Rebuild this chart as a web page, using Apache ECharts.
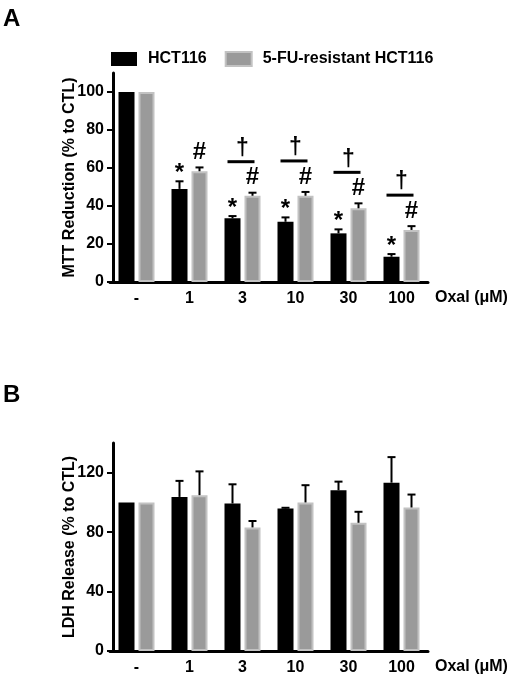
<!DOCTYPE html>
<html>
<head>
<meta charset="utf-8">
<script src="https://cdn.jsdelivr.net/npm/echarts@6/dist/echarts.min.js"></script>
<style>
html,body{margin:0;padding:0;background:#fff;}
#chart{width:512px;height:677px;}
</style>
</head>
<body>
<div id="chart"></div>
<script>
// ---- data ----
const categories = ['-', '1', '3', '10', '30', '100'];
const seriesNames = ['HCT116', '5-FU-resistant HCT116'];
// Panel A: MTT reduction (% to CTL)
const mttHCT = [100, 49, 33.5, 31.7, 25.6, 13.3];
const mttHCTErr = [0, 4, 1.2, 2.3, 2.1, 1.4];
const mttRes = [100, 58.3, 45.4, 45.4, 38.8, 27.4];
const mttResErr = [0, 2, 1.6, 2, 2.6, 2];
const mttStar = ['', '*', '*', '*', '*', '*'];
const mttHash = ['', '#', '#', '#', '#', '#'];
const mttDagger = ['', '', '\u2020', '\u2020', '\u2020', '\u2020'];
const mttTicks = [0, 20, 40, 60, 80, 100];
// Panel B: LDH release (% to CTL)
const ldhHCT = [100, 103.7, 99.3, 95.9, 108.2, 113.3];
const ldhHCTErr = [0, 10.8, 12.9, 0.5, 5.8, 17.2];
const ldhRes = [100, 104.9, 83.2, 100, 86.3, 96.6];
const ldhResErr = [0, 16, 4.3, 11.6, 7.4, 8.7];
const ldhTicks = [0, 40, 80, 120];

const FONT = 'Liberation Sans, Arial, sans-serif';
const BLACK = '#000000';
const GRAY = '#9a9a9a';
const GRAY_EDGE = '#c2c2c2';
const HALF = 10; // half distance between paired bar centres (px)

function errSeries(gridIdx, vals, errs, side, marks) {
  return {
    type: 'custom',
    xAxisIndex: gridIdx, yAxisIndex: gridIdx,
    z: 5, clip: false, silent: true,
    data: vals.map((v, i) => [i, v, errs[i]]),
    renderItem: function (params, api) {
      const i = params.dataIndex;
      const v = vals[i], e = errs[i];
      const base = api.coord([i, v]);
      const top = api.coord([i, v + e]);
      const x = base[0] + side * HALF;
      const children = [];
      if (e > 0) {
        children.push({type: 'line', shape: {x1: x, y1: base[1], x2: x, y2: top[1]}, style: {stroke: BLACK, lineWidth: 2}});
        children.push({type: 'line', shape: {x1: x - 4, y1: top[1], x2: x + 4, y2: top[1]}, style: {stroke: BLACK, lineWidth: 2}});
      }
      const m = marks ? marks[i] : '';
      if (m) {
        const dy = m === '*' ? -8 : -15;
        children.push({type: 'text', x: x, y: top[1] + dy, style: {text: m, fill: BLACK, font: 'bold 24px ' + FONT, align: 'center', verticalAlign: 'middle'}});
      }
      return {type: 'group', children: children};
    }
  };
}

function daggerSeries(gridIdx, vals, errs, marks) {
  return {
    type: 'custom',
    xAxisIndex: gridIdx, yAxisIndex: gridIdx,
    z: 5, clip: false, silent: true,
    data: vals.map((v, i) => [i, v + errs[i]]),
    renderItem: function (params, api) {
      const i = params.dataIndex;
      if (!marks[i]) return null;
      const p = api.coord([i, vals[i] + errs[i]]);
      const cx = p[0];
      const ly = p[1] - 31;
      return {type: 'group', children: [
        {type: 'line', shape: {x1: cx - 15, y1: ly, x2: cx + 12, y2: ly}, style: {stroke: BLACK, lineWidth: 3}},
        {type: 'text', x: cx, y: ly - 13, style: {text: marks[i], fill: BLACK, font: 'bold 23px ' + FONT, align: 'center', verticalAlign: 'middle'}}
      ]};
    }
  };
}

function xAxisCfg(gridIdx) {
  return {
    type: 'category', gridIndex: gridIdx, data: categories,
    axisLine: {lineStyle: {color: BLACK, width: 3}},
    axisTick: {show: false},
    axisLabel: {color: BLACK, fontFamily: FONT, fontWeight: 'bold', fontSize: 16, margin: 9},
    name: 'Oxal (\u03bcM)', nameLocation: 'end', nameGap: 7,
    nameTextStyle: {color: BLACK, fontFamily: FONT, fontWeight: 'bold', fontSize: 16, verticalAlign: 'top', padding: [8, 0, 0, 0]}
  };
}

function yAxisCfg(gridIdx, max, interval, ticks, name) {
  return {
    type: 'value', gridIndex: gridIdx, min: 0, max: max, interval: interval, offset: -3,
    splitLine: {show: false},
    axisLine: {show: true, lineStyle: {color: BLACK, width: 3}},
    axisTick: {show: true, length: 6, lineStyle: {color: BLACK, width: 2}, customValues: ticks},
    axisLabel: {color: BLACK, fontFamily: FONT, fontWeight: 'bold', fontSize: 16, margin: 9, customValues: ticks},
    name: name, nameLocation: 'middle', nameGap: 35, nameRotate: 90, nameMoveOverlap: false,
    nameTextStyle: {color: BLACK, fontFamily: FONT, fontWeight: 'bold', fontSize: 16}
  };
}

function barSeries(gridIdx, name, vals, isGray) {
  return {
    type: 'bar', name: name, xAxisIndex: gridIdx, yAxisIndex: gridIdx,
    data: vals, barWidth: 16, barGap: '25%',
    itemStyle: isGray ? {color: GRAY, borderColor: GRAY_EDGE, borderWidth: 2} : {color: BLACK},
    silent: true
  };
}

const chart = echarts.init(document.getElementById('chart'), null, {renderer: 'canvas'});
chart.setOption({
  animation: false,
  backgroundColor: '#ffffff',
  title: [
    {text: 'A', left: -2, top: 2, textStyle: {fontFamily: FONT, fontWeight: 'bold', fontSize: 24, color: BLACK}},
    {text: 'B', left: -2, top: 378, textStyle: {fontFamily: FONT, fontWeight: 'bold', fontSize: 24, color: BLACK}}
  ],
  legend: {
    data: seriesNames, left: 106, top: 46, itemWidth: 26, itemHeight: 14, itemGap: 18,
    icon: 'rect',
    textStyle: {fontFamily: FONT, fontWeight: 'bold', fontSize: 16, color: BLACK, padding: [0, 0, 0, 6]}
  },
  grid: [
    {left: 110, width: 318, top: 73, height: 209},
    {left: 110, width: 318, top: 443, height: 208}
  ],
  xAxis: [xAxisCfg(0), xAxisCfg(1)],
  yAxis: [
    yAxisCfg(0, 110, 10, mttTicks, 'MTT Reduction (% to CTL)'),
    yAxisCfg(1, 140, 20, ldhTicks, 'LDH Release (% to CTL)')
  ],
  series: [
    barSeries(0, seriesNames[0], mttHCT, false),
    barSeries(0, seriesNames[1], mttRes, true),
    barSeries(1, seriesNames[0], ldhHCT, false),
    barSeries(1, seriesNames[1], ldhRes, true),
    errSeries(0, mttHCT, mttHCTErr, -1, mttStar),
    errSeries(0, mttRes, mttResErr, 1, mttHash),
    daggerSeries(0, mttRes, mttResErr, mttDagger),
    errSeries(1, ldhHCT, ldhHCTErr, -1, null),
    errSeries(1, ldhRes, ldhResErr, 1, null)
  ]
});
</script>
</body>
</html>
